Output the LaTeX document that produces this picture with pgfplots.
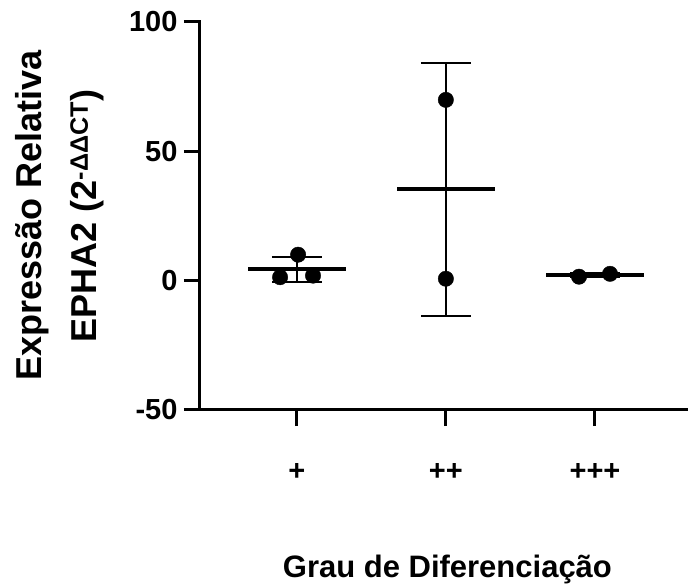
\documentclass[border=0pt]{standalone}
\usepackage{pgfplots}
\pgfplotsset{compat=1.18}
\usepackage{fontspec}
\setmainfont{Liberation Sans}
\begin{document}
\begin{tikzpicture}
\begin{axis}[
  scale only axis, width=488pt, height=388.3pt,
  xmin=-0.649, xmax=2.624, ymin=-50, ymax=100,
  axis lines=left,
  axis line style={-, line width=3pt, line cap=rect, black},
  xtick={0,1,2}, xticklabels={\textbf{+},\textbf{++},\textbf{+++}},
  ytick={-50,0,50,100},
  tick align=outside, major tick length=16pt,
  tick style={line width=3pt, black},
  /pgf/number format/assume math mode=true,
  tick label style={font=\fontsize{29}{29}\selectfont\bfseries},
  xticklabel style={yshift=-34pt},
  yticklabel style={xshift=-3pt},
  xlabel={Grau de Diferenciação},
  xlabel style={at={(axis description cs:0.507,0)}, anchor=base, yshift=-167pt,
    font=\fontsize{31}{31}\selectfont\bfseries},
  ylabel={Expressão Relativa\\EPHA2 (2\textsuperscript{-ΔΔCT})},
  ylabel style={at={(axis description cs:-0.1955,0.5)}, anchor=south, inner sep=0pt,
    align=center, font=\fontsize{36}{55}\selectfont\bfseries},
  clip=false,
]
% error bars (mean +- SD)
\addplot[draw=none, mark=none, forget plot,
  error bars/.cd, y dir=both, y explicit,
  error bar style={line width=2pt, black},
  error mark options={rotate=90, line width=2pt, mark size=25pt, black}]
  coordinates {(0,4.4) +- (0,4.86) (1,35.25) +- (0,48.9) (2,2.05) +- (0,0.78)};
% mean lines
\addplot[only marks, mark=-, mark size=49pt, mark options={line width=4.3pt, black}]
  coordinates {(0,4.4) (1,35.25) (2,2.05)};
% individual points
\addplot[only marks, mark=*, mark size=7.7pt, black]
  coordinates {(-0.112,1.3) (0.009,10.0) (0.109,1.9) (1,69.8) (1,0.7) (1.893,1.5) (2.101,2.6)};
\end{axis}
\pgfresetboundingbox
\path ([xshift=-200pt,yshift=-175pt]current axis.south west) rectangle ++(688pt,585pt);
\end{tikzpicture}
\end{document}
